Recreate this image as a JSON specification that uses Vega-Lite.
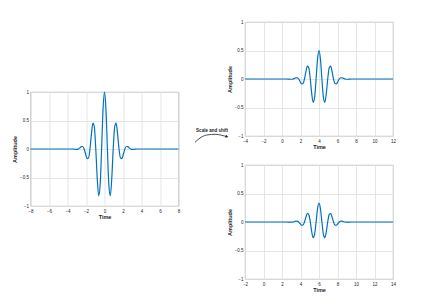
{
  "$schema": "https://vega.github.io/schema/vega-lite/v6.json",
  "padding": {"left": 11.5, "top": 18, "right": 5, "bottom": 5},
  "background": "white",
  "config": {
    "font": "Liberation Sans",
    "view": {"stroke": "#a6a6a6", "strokeWidth": 0.8},
    "axis": {
      "grid": true, "gridColor": "#dedede", "gridWidth": 0.8,
      "domain": false, "ticks": false,
      "labelFontSize": 4.5, "labelColor": "#262626", "labelPadding": 2,
      "labelFlush": false, "labelOverlap": false, "format": "~g",
      "titleFontSize": 5.5, "titleFontWeight": "bold", "titleColor": "#262626", "titlePadding": 2
    }
  },
  "datasets": {
    "a": [
      {"t": -8, "y": 0}, {"t": -3.456, "y": 0}, {"t": -3.299, "y": -0.003}, {"t": -3.142, "y": -0.007},
      {"t": -2.985, "y": -0.008}, {"t": -2.827, "y": 0}, {"t": -2.670, "y": 0.020}, {"t": -2.513, "y": 0.043},
      {"t": -2.356, "y": 0.044}, {"t": -2.199, "y": 0}, {"t": -2.042, "y": -0.088}, {"t": -1.885, "y": -0.169},
      {"t": -1.728, "y": -0.159}, {"t": -1.571, "y": 0}, {"t": -1.414, "y": 0.260}, {"t": -1.257, "y": 0.454},
      {"t": -1.100, "y": 0.386}, {"t": -0.942, "y": 0}, {"t": -0.785, "y": -0.519}, {"t": -0.628, "y": -0.821},
      {"t": -0.471, "y": -0.633}, {"t": -0.314, "y": 0}, {"t": -0.157, "y": 0.698}, {"t": 0, "y": 1},
      {"t": 0.157, "y": 0.698}, {"t": 0.314, "y": 0}, {"t": 0.471, "y": -0.633}, {"t": 0.628, "y": -0.821},
      {"t": 0.785, "y": -0.519}, {"t": 0.942, "y": 0}, {"t": 1.100, "y": 0.386}, {"t": 1.257, "y": 0.454},
      {"t": 1.414, "y": 0.260}, {"t": 1.571, "y": 0}, {"t": 1.728, "y": -0.159}, {"t": 1.885, "y": -0.169},
      {"t": 2.042, "y": -0.088}, {"t": 2.199, "y": 0}, {"t": 2.356, "y": 0.044}, {"t": 2.513, "y": 0.043},
      {"t": 2.670, "y": 0.020}, {"t": 2.827, "y": 0}, {"t": 2.985, "y": -0.008}, {"t": 3.142, "y": -0.007},
      {"t": 3.299, "y": -0.003}, {"t": 3.456, "y": 0}, {"t": 8, "y": 0}
    ],
    "b": [
      {"t": -4, "y": 0}, {"t": 0.544, "y": 0}, {"t": 0.701, "y": -0.002}, {"t": 0.858, "y": -0.004},
      {"t": 1.015, "y": -0.004}, {"t": 1.173, "y": 0}, {"t": 1.330, "y": 0.010}, {"t": 1.487, "y": 0.021},
      {"t": 1.644, "y": 0.022}, {"t": 1.801, "y": 0}, {"t": 1.958, "y": -0.044}, {"t": 2.115, "y": -0.085},
      {"t": 2.272, "y": -0.079}, {"t": 2.429, "y": 0}, {"t": 2.586, "y": 0.130}, {"t": 2.743, "y": 0.227},
      {"t": 2.900, "y": 0.193}, {"t": 3.058, "y": 0}, {"t": 3.215, "y": -0.260}, {"t": 3.372, "y": -0.410},
      {"t": 3.529, "y": -0.316}, {"t": 3.686, "y": 0}, {"t": 3.843, "y": 0.349}, {"t": 4, "y": 0.5},
      {"t": 4.157, "y": 0.349}, {"t": 4.314, "y": 0}, {"t": 4.471, "y": -0.316}, {"t": 4.628, "y": -0.410},
      {"t": 4.785, "y": -0.260}, {"t": 4.942, "y": 0}, {"t": 5.100, "y": 0.193}, {"t": 5.257, "y": 0.227},
      {"t": 5.414, "y": 0.130}, {"t": 5.571, "y": 0}, {"t": 5.728, "y": -0.079}, {"t": 5.885, "y": -0.085},
      {"t": 6.042, "y": -0.044}, {"t": 6.199, "y": 0}, {"t": 6.356, "y": 0.022}, {"t": 6.513, "y": 0.021},
      {"t": 6.670, "y": 0.010}, {"t": 6.827, "y": 0}, {"t": 6.985, "y": -0.004}, {"t": 7.142, "y": -0.004},
      {"t": 7.299, "y": -0.002}, {"t": 7.456, "y": 0}, {"t": 12, "y": 0}
    ],
    "c": [
      {"t": -2, "y": 0}, {"t": 2.544, "y": 0}, {"t": 2.701, "y": -0.001}, {"t": 2.858, "y": -0.002},
      {"t": 3.015, "y": -0.003}, {"t": 3.173, "y": 0}, {"t": 3.330, "y": 0.007}, {"t": 3.487, "y": 0.014},
      {"t": 3.644, "y": 0.015}, {"t": 3.801, "y": 0}, {"t": 3.958, "y": -0.029}, {"t": 4.115, "y": -0.056},
      {"t": 4.272, "y": -0.053}, {"t": 4.429, "y": 0}, {"t": 4.586, "y": 0.087}, {"t": 4.743, "y": 0.151},
      {"t": 4.900, "y": 0.129}, {"t": 5.058, "y": 0}, {"t": 5.215, "y": -0.173}, {"t": 5.372, "y": -0.274},
      {"t": 5.529, "y": -0.211}, {"t": 5.686, "y": 0}, {"t": 5.843, "y": 0.233}, {"t": 6, "y": 0.333},
      {"t": 6.157, "y": 0.233}, {"t": 6.314, "y": 0}, {"t": 6.471, "y": -0.211}, {"t": 6.628, "y": -0.274},
      {"t": 6.785, "y": -0.173}, {"t": 6.942, "y": 0}, {"t": 7.100, "y": 0.129}, {"t": 7.257, "y": 0.151},
      {"t": 7.414, "y": 0.087}, {"t": 7.571, "y": 0}, {"t": 7.728, "y": -0.053}, {"t": 7.885, "y": -0.056},
      {"t": 8.042, "y": -0.029}, {"t": 8.199, "y": 0}, {"t": 8.356, "y": 0.015}, {"t": 8.513, "y": 0.014},
      {"t": 8.670, "y": 0.007}, {"t": 8.827, "y": 0}, {"t": 8.985, "y": -0.003}, {"t": 9.142, "y": -0.002},
      {"t": 9.299, "y": -0.001}, {"t": 9.456, "y": 0}, {"t": 14, "y": 0}
    ],
    "arrow": [
      {"t": -9.405, "y": -1.110}, {"t": -8.757, "y": -1.023}, {"t": -8.0, "y": -0.979},
      {"t": -7.243, "y": -0.970}, {"t": -6.486, "y": -0.988}, {"t": -5.95, "y": -1.012}
    ]
  },
  "spacing": 11.5,
  "hconcat": [
    {
      "spacing": 0,
      "vconcat": [
        {
          "width": 148, "height": 65.5,
          "view": {"stroke": null},
          "data": {"values": []},
          "mark": {"type": "text"},
          "encoding": {}
        },
        {
          "width": 148, "height": 114,
          "data": {"name": "a"},
          "mark": {"type": "line", "interpolate": "monotone", "color": "#0072BD", "strokeWidth": 1.2},
          "encoding": {
            "x": {"field": "t", "type": "quantitative", "scale": {"domain": [-8, 8], "nice": false},
                  "axis": {"values": [-8, -6, -4, -2, 0, 2, 4, 6, 8], "title": "Time"}},
            "y": {"field": "y", "type": "quantitative", "scale": {"domain": [-1, 1], "nice": false},
                  "axis": {"values": [-1, -0.5, 0, 0.5, 1], "title": "Amplitude"}}
          }
        }
      ]
    },
    {
      "spacing": 10,
      "vconcat": [
        {
          "width": 148, "height": 114,
          "layer": [
            {
              "data": {"name": "b"},
              "mark": {"type": "line", "interpolate": "monotone", "color": "#0072BD", "strokeWidth": 1.2},
              "encoding": {
                "x": {"field": "t", "type": "quantitative", "scale": {"domain": [-4, 12], "nice": false},
                      "axis": {"values": [-4, -2, 0, 2, 4, 6, 8, 10, 12], "title": "Time"}},
                "y": {"field": "y", "type": "quantitative", "scale": {"domain": [-1, 1], "nice": false},
                      "axis": {"values": [-1, -0.5, 0, 0.5, 1], "title": "Amplitude"}}
              }
            },
            {
              "data": {"name": "arrow"},
              "mark": {"type": "line", "interpolate": "monotone", "color": "#222222", "strokeWidth": 0.8},
              "encoding": {
                "x": {"field": "t", "type": "quantitative", "scale": {"domain": [-4, 12], "nice": false},
                      "axis": {"values": [-4, -2, 0, 2, 4, 6, 8, 10, 12], "title": "Time"}},
                "y": {"field": "y", "type": "quantitative", "scale": {"domain": [-1, 1], "nice": false},
                      "axis": {"values": [-1, -0.5, 0, 0.5, 1], "title": "Amplitude"}}
              }
            },
            {
              "data": {"values": [{}]},
              "mark": {"type": "point", "shape": "triangle-right", "filled": true, "color": "#222222", "size": 10, "angle": 15, "opacity": 1},
              "encoding": {
                "x": {"datum": -5.95, "type": "quantitative", "scale": {"domain": [-4, 12], "nice": false},
                      "axis": {"values": [-4, -2, 0, 2, 4, 6, 8, 10, 12], "title": "Time"}},
                "y": {"datum": -1.012, "type": "quantitative", "scale": {"domain": [-1, 1], "nice": false},
                      "axis": {"values": [-1, -0.5, 0, 0.5, 1], "title": "Amplitude"}}
              }
            },
            {
              "data": {"values": [{}]},
              "mark": {"type": "text", "text": "Scale and shift", "fontSize": 4.5, "fontWeight": "bold", "color": "#222222", "align": "center", "baseline": "middle"},
              "encoding": {
                "x": {"datum": -7.568, "type": "quantitative", "scale": {"domain": [-4, 12], "nice": false},
                      "axis": {"values": [-4, -2, 0, 2, 4, 6, 8, 10, 12], "title": "Time"}},
                "y": {"datum": -0.92, "type": "quantitative", "scale": {"domain": [-1, 1], "nice": false},
                      "axis": {"values": [-1, -0.5, 0, 0.5, 1], "title": "Amplitude"}}
              }
            }
          ]
        },
        {
          "width": 148, "height": 114,
          "data": {"name": "c"},
          "mark": {"type": "line", "interpolate": "monotone", "color": "#0072BD", "strokeWidth": 1.2},
          "encoding": {
            "x": {"field": "t", "type": "quantitative", "scale": {"domain": [-2, 14], "nice": false},
                  "axis": {"values": [-2, 0, 2, 4, 6, 8, 10, 12, 14], "title": "Time"}},
            "y": {"field": "y", "type": "quantitative", "scale": {"domain": [-1, 1], "nice": false},
                  "axis": {"values": [-1, -0.5, 0, 0.5, 1], "title": "Amplitude"}}
          }
        }
      ]
    }
  ]
}
